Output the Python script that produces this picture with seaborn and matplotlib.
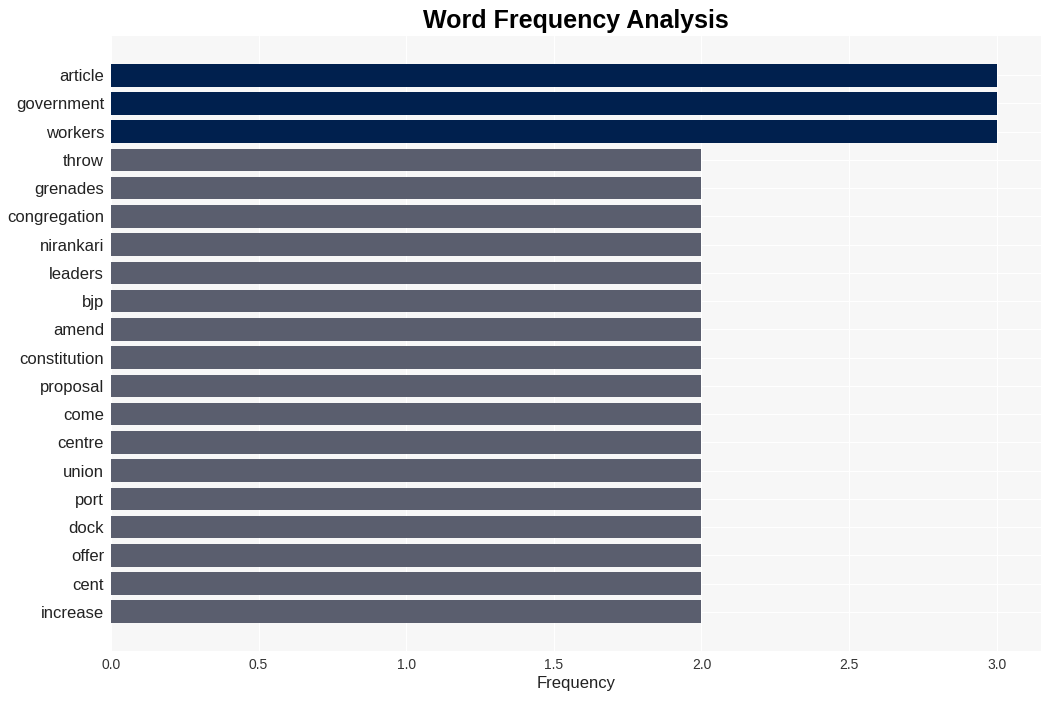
import matplotlib
matplotlib.use("Agg")
import matplotlib.pyplot as plt
import seaborn as sns
import pandas as pd

words = ["article", "government", "workers", "throw", "grenades", "congregation",
         "nirankari", "leaders", "bjp", "amend", "constitution", "proposal", "come",
         "centre", "union", "port", "dock", "offer", "cent", "increase"]
freqs = [3, 3, 3, 2, 2, 2, 2, 2, 2, 2, 2, 2, 2, 2, 2, 2, 2, 2, 2, 2]
top_color = "#00204E"
other_color = "#5A5E6E"

sns.set_theme(style="darkgrid", rc={
    "axes.facecolor": "#F7F7F7",
    "grid.color": "#FFFFFF",
    "grid.linewidth": 0.8,
    "axes.edgecolor": "#F7F7F7",
})
plt.rcParams['font.family'] = ['Liberation Sans', 'DejaVu Sans']

df = pd.DataFrame({"word": words, "freq": freqs})
palette = [top_color if f == max(freqs) else other_color for f in freqs]

fig = plt.figure(figsize=(10.51, 7.01), dpi=100)
ax = fig.add_axes([111/1051, 50/701, 930/1051, 615/701])
sns.barplot(data=df, x="freq", y="word", hue="word", palette=palette,
            legend=False, width=0.8, saturation=1, linewidth=0, ax=ax)
n = len(words)
ax.set_ylim(n - 1 + 0.4 + 0.99, -0.4 - 0.99)
ax.set_xlim(0, 3.15)
ax.set_xticks([0, 0.5, 1.0, 1.5, 2.0, 2.5, 3.0])
ax.set_xticklabels(["0.0", "0.5", "1.0", "1.5", "2.0", "2.5", "3.0"])
ax.grid(True, axis="both", color="white", linewidth=0.8)
ax.set_axisbelow(True)
ax.tick_params(axis="x", labelsize=10, colors="#333333", length=0, pad=5)
ax.tick_params(axis="y", labelsize=12, colors="#222222", length=0, pad=5)
ax.set_ylabel("")
ax.set_xlabel("Frequency", fontsize=12, color="#222222", labelpad=3)
for s in ax.spines.values():
    s.set_visible(False)
ax.set_title("Word Frequency Analysis", fontsize=18, fontweight="bold", color="black", pad=6)
fig.savefig("out.png", dpi=100)
